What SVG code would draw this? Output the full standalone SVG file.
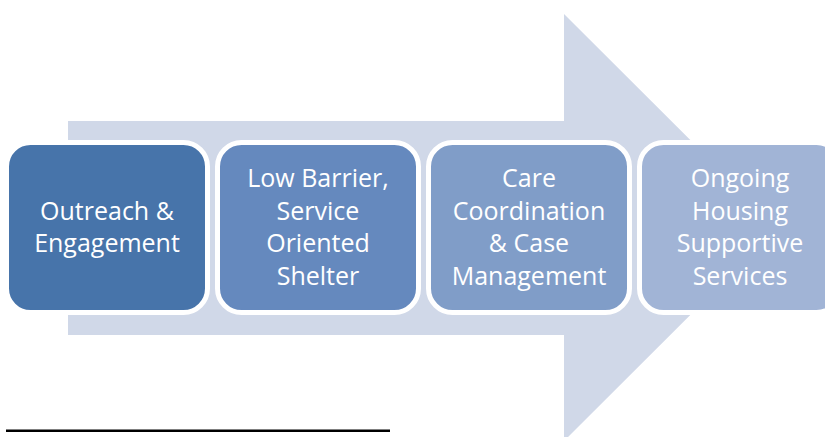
<svg xmlns="http://www.w3.org/2000/svg" width="825" height="437" viewBox="0 0 825 437">
<style>
.box{stroke:#fff;stroke-width:5}
.t{font-family:"Open Sans","Liberation Sans",sans-serif;font-size:25px;fill:#fff;text-anchor:middle}
</style>
<rect width="825" height="437" fill="#fff"/>
<g id="arrow">
<path d="M68,121 H564 V14 L778,227.5 L564,441 V335 H68 Z" fill="#D0D8E8"/>
</g>
<g id="connectors"></g>
<g id="n1">
<rect class="box" x="6.5" y="142.5" width="201" height="170" rx="24" fill="#4774AA"/>
<text class="t" x="107" y="220">Outreach &amp;</text>
<text class="t" x="107" y="252">Engagement</text>
</g>
<g id="n2">
<rect class="box" x="217.5" y="142.5" width="201" height="170" rx="24" fill="#6589BE"/>
<text class="t" x="318" y="187">Low Barrier,</text>
<text class="t" x="318" y="220">Service</text>
<text class="t" x="318" y="252">Oriented</text>
<text class="t" x="318" y="285">Shelter</text>
</g>
<g id="n3">
<rect class="box" x="428.5" y="142.5" width="201" height="170" rx="24" fill="#809DC8"/>
<text class="t" x="529" y="187">Care</text>
<text class="t" x="529" y="220">Coordination</text>
<text class="t" x="529" y="252">&amp; Case</text>
<text class="t" x="529" y="285">Management</text>
</g>
<g id="n4">
<rect class="box" x="639.5" y="142.5" width="201" height="170" rx="24" fill="#A1B4D6"/>
<text class="t" x="740" y="187">Ongoing</text>
<text class="t" x="740" y="220">Housing</text>
<text class="t" x="740" y="252">Supportive</text>
<text class="t" x="740" y="285">Services</text>
</g>
<line x1="6" y1="430.7" x2="390" y2="430.7" stroke="#000" stroke-width="2.6"/>
</svg>
